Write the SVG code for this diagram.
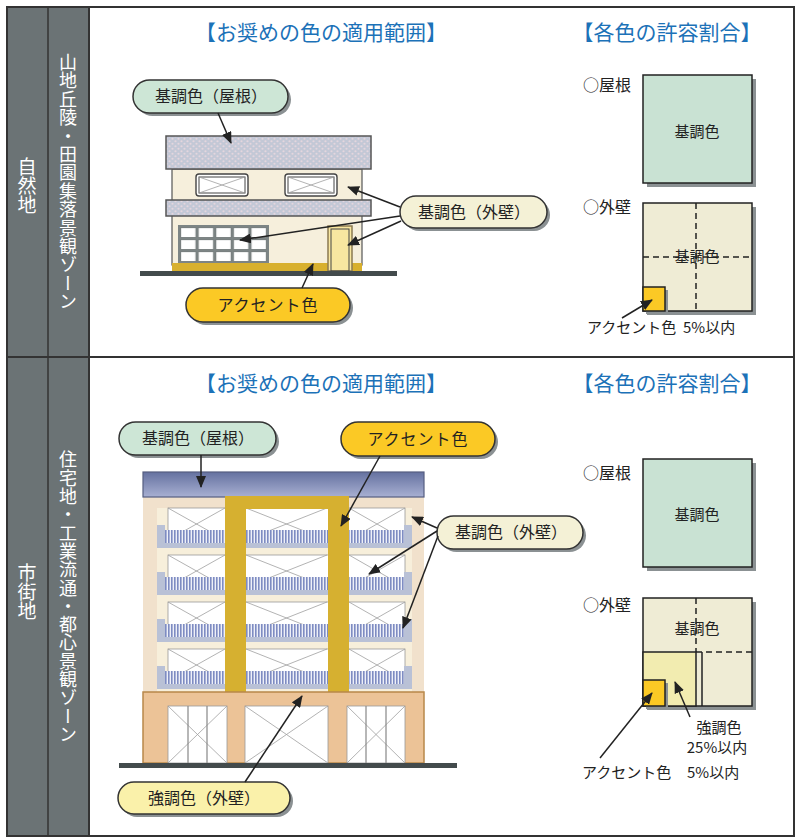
<svg xmlns="http://www.w3.org/2000/svg" width="803" height="838" viewBox="0 0 803 838">
<style>
text{font-family:"Noto Sans CJK JP","Noto Sans",sans-serif;fill:#222}
.side{fill:#fff;font-size:19px}
.zone{fill:#fff;font-size:18px}
.vt{writing-mode:vertical-rl}
.hdr{fill:#1c72b8;font-size:21px}
.lbl{font-size:16px}
.sm{font-size:15px}
.pill{stroke:#333;stroke-width:1.5}
.shd{fill:#8b9193}
.conn{stroke:#222;stroke-width:1.5;fill:none;marker-end:url(#ah)}
.win{fill:#fff;stroke:#444;stroke-width:1.4}
.x{stroke:#a0a0a0;stroke-width:0.8}
.sq{stroke:#222;stroke-width:1.5}
</style>
<defs>
<marker id="ah" viewBox="0 0 12 10" refX="11" refY="5" markerWidth="12" markerHeight="10" markerUnits="userSpaceOnUse" orient="auto">
<path d="M0,0 L12,5 L0,10 z" fill="#222"/>
</marker>
<pattern id="dots" width="6" height="5" patternUnits="userSpaceOnUse">
<rect width="6" height="5" fill="#c3c8d6"/>
<circle cx="1.5" cy="1.25" r="1.1" fill="#e4d6de"/>
<circle cx="4.5" cy="3.75" r="1.1" fill="#e4d6de"/>
</pattern>
<pattern id="rail" width="3" height="10" patternUnits="userSpaceOnUse">
<rect width="3" height="10" fill="#eef0f8"/>
<rect width="1.6" height="10" fill="#7e8cc2"/>
</pattern>
<pattern id="pane" x="180" y="227" width="17.6" height="12" patternUnits="userSpaceOnUse">
<rect x="0.8" y="0.8" width="15" height="9.6" fill="#fff" stroke="#5a6262" stroke-width="0.6"/>
</pattern>
<linearGradient id="roofg" x1="0" y1="0" x2="0" y2="1">
<stop offset="0" stop-color="#6571a0"/>
<stop offset="1" stop-color="#a8b0d2"/>
</linearGradient>
</defs>

<!-- frame and sidebars -->
<g id="frame">
<rect x="7" y="7" width="82" height="829" fill="#6b7375"/>
<rect x="7" y="7" width="787" height="829" fill="none" stroke="#333" stroke-width="2"/>
<line x1="48" y1="7" x2="48" y2="836" stroke="#333" stroke-width="1.5"/>
<line x1="89" y1="7" x2="89" y2="836" stroke="#333" stroke-width="2"/>
<line x1="7" y1="357" x2="794" y2="357" stroke="#333" stroke-width="2"/>
</g>
<g id="side-top">
<text class="side vt" x="27" y="186" text-anchor="middle">自然地</text>
<text class="zone vt" x="68" y="182" text-anchor="middle" font-size="16" letter-spacing="0.4">山地丘陵・田園集落景観ゾーン</text>
</g>
<g id="side-bottom">
<text class="side vt" x="27" y="592" text-anchor="middle">市街地</text>
<text class="zone vt" x="68" y="597" text-anchor="middle" letter-spacing="0.3">住宅地・工業流通・都心景観ゾーン</text>
</g>

<g id="headers">
<text class="hdr" x="321" y="40" text-anchor="middle">【お奨めの色の適用範囲】</text>
<text class="hdr" x="667" y="40" text-anchor="middle">【各色の許容割合】</text>
<text class="hdr" x="321" y="391" text-anchor="middle">【お奨めの色の適用範囲】</text>
<text class="hdr" x="667" y="391" text-anchor="middle">【各色の許容割合】</text>
</g>

<!-- house -->
<g id="house">
<rect x="172" y="169" width="190" height="96" fill="#f6efdc" stroke="#555" stroke-width="1.2"/>
<rect x="166" y="136" width="205" height="33" fill="url(#dots)" stroke="#555" stroke-width="1.5"/>
<rect x="166" y="200" width="205" height="16" fill="url(#dots)" stroke="#555" stroke-width="1.5"/>
<rect class="win" x="196" y="174" width="52" height="22" rx="3"/>
<rect x="199" y="177" width="46" height="16" fill="none" stroke="#444" stroke-width="1"/>
<path class="x" d="M199,177 L245,193 M245,177 L199,193"/>
<rect class="win" x="285" y="174" width="52" height="22" rx="3"/>
<rect x="288" y="177" width="46" height="16" fill="none" stroke="#444" stroke-width="1"/>
<path class="x" d="M288,177 L334,193 M334,177 L288,193"/>
<rect x="178" y="225" width="91" height="38" fill="#7d8585"/>
<rect x="180" y="227" width="88" height="36" fill="url(#pane)"/>
<rect x="172" y="263" width="190" height="9" fill="#d8b02e"/>
<rect x="328" y="226" width="24" height="45" fill="#f8e6a0" stroke="#8a7a50" stroke-width="1.5"/>
<rect x="331" y="229" width="18" height="42" fill="none" stroke="#444" stroke-width="1"/>
<rect x="140" y="271" width="257" height="5" fill="#434b4c"/>
</g>

<!-- building -->
<g id="building">
<rect x="143" y="497" width="281" height="195" fill="#f1e1cc"/>
<rect x="157" y="508" width="255" height="184" fill="#f7efdb"/>
<g id="floors">
<g id="floor1">
<rect x="168" y="508" width="237" height="36" fill="#fff" stroke="#999" stroke-width="0.8"/>
<path class="x" d="M168,508 L225,540 M225,508 L168,540 M246,508 L327,540 M327,508 L246,540 M349,508 L405,540 M405,508 L349,540"/>
<rect x="157" y="525" width="8" height="23" fill="#b9c1d6"/><rect x="404" y="525" width="8" height="23" fill="#b9c1d6"/>
<rect x="165" y="530" width="239" height="13" fill="url(#rail)"/>
<rect x="157" y="543" width="255" height="5" fill="#b9c1d6"/>
</g>
<g id="floor2">
<rect x="168" y="555" width="237" height="36" fill="#fff" stroke="#999" stroke-width="0.8"/>
<path class="x" d="M168,555 L225,587 M225,555 L168,587 M246,555 L327,587 M327,555 L246,587 M349,555 L405,587 M405,555 L349,587"/>
<rect x="157" y="572" width="8" height="23" fill="#b9c1d6"/><rect x="404" y="572" width="8" height="23" fill="#b9c1d6"/>
<rect x="165" y="577" width="239" height="13" fill="url(#rail)"/>
<rect x="157" y="590" width="255" height="5" fill="#b9c1d6"/>
</g>
<g id="floor3">
<rect x="168" y="602" width="237" height="36" fill="#fff" stroke="#999" stroke-width="0.8"/>
<path class="x" d="M168,602 L225,634 M225,602 L168,634 M246,602 L327,634 M327,602 L246,634 M349,602 L405,634 M405,602 L349,634"/>
<rect x="157" y="619" width="8" height="23" fill="#b9c1d6"/><rect x="404" y="619" width="8" height="23" fill="#b9c1d6"/>
<rect x="165" y="624" width="239" height="13" fill="url(#rail)"/>
<rect x="157" y="637" width="255" height="5" fill="#b9c1d6"/>
</g>
<g id="floor4">
<rect x="168" y="649" width="237" height="36" fill="#fff" stroke="#999" stroke-width="0.8"/>
<path class="x" d="M168,649 L225,681 M225,649 L168,681 M246,649 L327,681 M327,649 L246,681 M349,649 L405,681 M405,649 L349,681"/>
<rect x="157" y="666" width="8" height="23" fill="#b9c1d6"/><rect x="404" y="666" width="8" height="23" fill="#b9c1d6"/>
<rect x="165" y="671" width="239" height="13" fill="url(#rail)"/>
<rect x="157" y="684" width="255" height="5" fill="#b9c1d6"/>
</g>
</g>
<rect x="143" y="472" width="281" height="25" fill="url(#roofg)" stroke="#555e80" stroke-width="1.2"/>
<path d="M225,692 V496 H349 V692 H328 V509 H246 V692 Z" fill="#d6b030"/>
<rect x="143" y="692" width="281" height="71" fill="#ecc397" stroke="#b8884a" stroke-width="1.5"/>
<rect x="168" y="706" width="59" height="57" fill="#fff" stroke="#999" stroke-width="0.8"/>
<path class="x" d="M168,706 L227,763 M227,706 L168,763"/>
<path d="M188,706 V763 M207,706 V763" stroke="#888" stroke-width="1.2"/>
<rect x="245" y="706" width="83" height="57" fill="#fff" stroke="#999" stroke-width="0.8"/>
<path class="x" d="M245,706 L328,763 M328,706 L245,763"/>
<rect x="347" y="706" width="58" height="57" fill="#fff" stroke="#999" stroke-width="0.8"/>
<path class="x" d="M347,706 L405,763 M405,706 L347,763"/>
<path d="M366,706 V763 M386,706 V763" stroke="#888" stroke-width="1.2"/>
<rect x="119" y="763" width="338" height="5" fill="#434b4c"/>
</g>

<!-- labels top -->
<g id="lbl-roof-top">
<rect class="shd" x="136" y="83" width="155" height="33" rx="16.5"/>
<rect class="pill" x="133" y="80" width="155" height="33" rx="16.5" fill="#cde6d6"/>
<text class="lbl" x="211" y="102" text-anchor="middle">基調色（屋根）</text>
</g>
<g id="lbl-wall-top">
<rect class="shd" x="403" y="199" width="147" height="32" rx="16"/>
<rect class="pill" x="400" y="196" width="147" height="32" rx="16" fill="#f4f1d6"/>
<text class="lbl" x="474" y="218" text-anchor="middle">基調色（外壁）</text>
</g>
<g id="lbl-accent-top">
<rect class="shd" x="189" y="291" width="164" height="34" rx="17"/>
<rect class="pill" x="186" y="288" width="164" height="34" rx="17" fill="#fbc925"/>
<text class="lbl" x="268" y="311" text-anchor="middle" letter-spacing="1">アクセント色</text>
</g>
<!-- labels bottom -->
<g id="lbl-roof-bot">
<rect class="shd" x="122" y="425" width="157" height="33" rx="16.5"/>
<rect class="pill" x="119" y="422" width="157" height="33" rx="16.5" fill="#cde6d6"/>
<text class="lbl" x="198" y="444" text-anchor="middle">基調色（屋根）</text>
</g>
<g id="lbl-accent-bot">
<rect class="shd" x="344" y="425" width="154" height="34" rx="17"/>
<rect class="pill" x="341" y="422" width="154" height="34" rx="17" fill="#fbc925"/>
<text class="lbl" x="418" y="445" text-anchor="middle" letter-spacing="1">アクセント色</text>
</g>
<g id="lbl-wall-bot">
<rect class="shd" x="440" y="519" width="146" height="33" rx="16.5"/>
<rect class="pill" x="437" y="516" width="146" height="33" rx="16.5" fill="#f4f1d6"/>
<text class="lbl" x="511" y="538" text-anchor="middle">基調色（外壁）</text>
</g>
<g id="lbl-strong-bot">
<rect class="shd" x="121" y="785" width="172" height="32" rx="16"/>
<rect class="pill" x="118" y="782" width="172" height="32" rx="16" fill="#faf1aa"/>
<text class="lbl" x="204" y="804" text-anchor="middle">強調色（外壁）</text>
</g>

<!-- ratio squares top -->
<g id="ratio-top">
<text class="lbl" x="583" y="91">○屋根</text>
<rect class="shd" x="647" y="79" width="109" height="108"/>
<rect class="sq" x="643" y="75" width="109" height="108" fill="#c9e2d3"/>
<text class="sm" x="697" y="137" text-anchor="middle">基調色</text>
<text class="lbl" x="583" y="213">○外壁</text>
<rect class="shd" x="647" y="207" width="109" height="108"/>
<rect class="sq" x="643" y="203" width="109" height="108" fill="#efecd5"/>
<path d="M696,203 V311 M643,257 H752" stroke="#222" stroke-width="1.5" stroke-dasharray="6,4"/>
<text class="sm" x="697" y="262" text-anchor="middle">基調色</text>
<rect class="shd" x="646" y="290" width="22" height="24"/>
<rect class="sq" x="643" y="287" width="22" height="24" fill="#fbc925"/>
<text class="sm" x="587" y="333">アクセント色 <tspan x="683">5%以内</tspan></text>
</g>
<!-- ratio squares bottom -->
<g id="ratio-bot">
<text class="lbl" x="583" y="479">○屋根</text>
<rect class="shd" x="647" y="463" width="109" height="108"/>
<rect class="sq" x="643" y="459" width="109" height="108" fill="#c9e2d3"/>
<text class="sm" x="697" y="520" text-anchor="middle">基調色</text>
<text class="lbl" x="583" y="611">○外壁</text>
<rect class="shd" x="647" y="602" width="109" height="108"/>
<rect class="sq" x="643" y="598" width="109" height="108" fill="#efecd5"/>
<path d="M696,598 V652 M696,652 H752" stroke="#222" stroke-width="1.5" stroke-dasharray="6,4"/>
<line x1="702" y1="652" x2="702" y2="706" stroke="#222" stroke-width="1.5"/>
<rect class="sq" x="643" y="652" width="53" height="54" fill="#f2ecb0"/>
<text class="sm" x="697" y="634" text-anchor="middle">基調色</text>
<rect class="shd" x="646" y="683" width="22" height="26"/>
<rect class="sq" x="643" y="680" width="22" height="26" fill="#fbc925"/>
<text class="sm" x="719" y="733" text-anchor="middle">強調色</text>
<text class="sm" x="717" y="753" text-anchor="middle">25%以内</text>
<text class="sm" x="582" y="778">アクセント色　<tspan x="687">5%以内</tspan></text>
</g>

<!-- connectors -->
<g id="connectors">
<line class="conn" x1="218" y1="113" x2="231" y2="143"/>
<line class="conn" x1="400" y1="207" x2="348" y2="187"/>
<line class="conn" x1="400" y1="216" x2="240" y2="240"/>
<line class="conn" x1="401" y1="221" x2="348" y2="245"/>
<line class="conn" x1="302" y1="288" x2="313" y2="264"/>
<line class="conn" x1="622" y1="318" x2="652" y2="300"/>
<line class="conn" x1="201" y1="455" x2="201" y2="487"/>
<line class="conn" x1="380" y1="456" x2="341" y2="526"/>
<line class="conn" x1="437" y1="528" x2="412" y2="517"/>
<line class="conn" x1="437" y1="531" x2="369" y2="574"/>
<line class="conn" x1="438" y1="536" x2="403" y2="628"/>
<line class="conn" x1="245" y1="782" x2="302" y2="696"/>
<line class="conn" x1="600" y1="758" x2="652" y2="693"/>
<line class="conn" x1="690" y1="717" x2="675" y2="682"/>
</g>
</svg>
